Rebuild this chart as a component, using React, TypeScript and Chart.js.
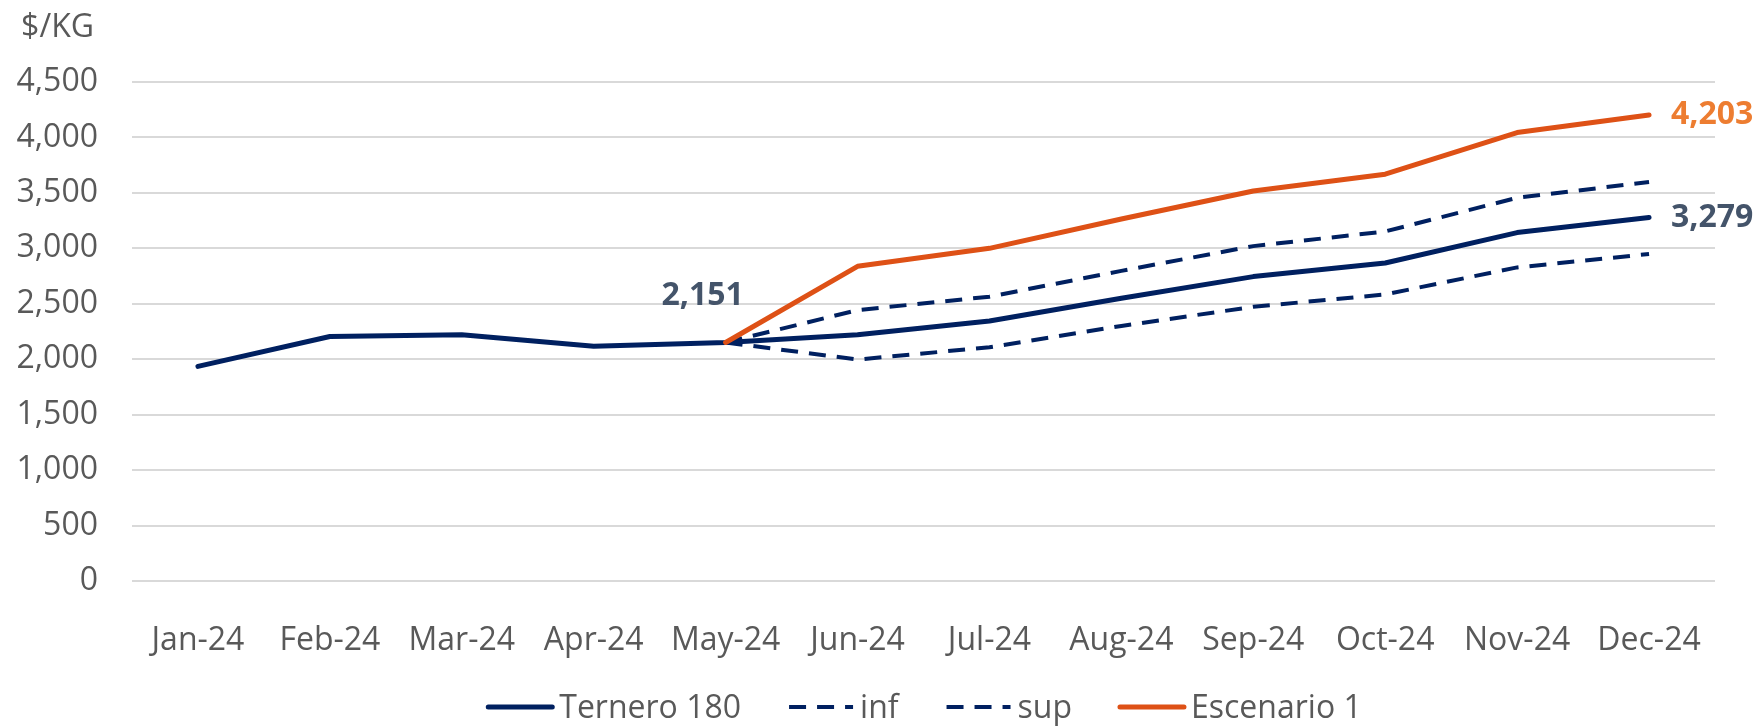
import React, { useEffect, useRef } from "react";
import { Chart, registerables } from "chart.js";

Chart.register(...registerables);

const FONT = "'Open Sans', sans-serif";

const categories = ["Jan-24", "Feb-24", "Mar-24", "Apr-24", "May-24", "Jun-24", "Jul-24", "Aug-24", "Sep-24", "Oct-24", "Nov-24", "Dec-24"];
const ternero = [1935, 2205, 2220, 2118, 2151, 2220, 2345, 2550, 2745, 2868, 3142, 3279];
const inf = [null, null, null, null, 2151, 1997, 2108, 2300, 2473, 2584, 2828, 2949];
const sup = [null, null, null, null, 2151, 2443, 2564, 2797, 3020, 3152, 3456, 3598];
const escenario = [null, null, null, null, 2151, 2838, 3000, 3264, 3517, 3669, 4044, 4203];

const seriesNames = ["Ternero 180", "inf", "sup", "Escenario 1"];
const yMin = 0;
const yMax = 4500;
const yStep = 500;
const axisTitle = "$/KG";

// data labels: dataset index, point index
const dataLabels = [
  { ds: 0, idx: 4, dx: -23, dy: -47, align: "center", color: "#44546A" },
  { ds: 0, idx: 11, dx: 22, dy: 0, align: "left", color: "#44546A" },
  { ds: 3, idx: 11, dx: 22, dy: 0, align: "left", color: "#ED7D31" },
];

const fmt = (v: number) => v.toLocaleString("en-US");

const overlay = {
  id: "overlay",
  afterDatasetsDraw(chart: any) {
    const ctx = chart.ctx;
    const ys = chart.scales.y;
    const area = chart.chartArea;
    ctx.save();
    // axis title
    ctx.font = `32px ${FONT}`;
    ctx.fillStyle = "#595959";
    ctx.textAlign = "right";
    ctx.textBaseline = "middle";
    ctx.fillText(axisTitle, ys.right - 38, area.top - 54);

    // data labels
    ctx.font = `bold 32px ${FONT}`;
    dataLabels.forEach((l) => {
      const meta = chart.getDatasetMeta(l.ds);
      const pt = meta.data[l.idx];
      const v = chart.data.datasets[l.ds].data[l.idx];
      ctx.fillStyle = l.color;
      ctx.textAlign = l.align;
      ctx.textBaseline = "middle";
      ctx.fillText(fmt(v), pt.x + l.dx, pt.y + l.dy);
    });

    // legend
    ctx.font = `32px ${FONT}`;
    const sample = 70;
    const gapText = 4;
    const gapItem = 45;
    const items = chart.data.datasets.map((d: any) => ({ d, w: ctx.measureText(d.label).width }));
    const total = items.reduce((s: number, it: any) => s + sample + gapText + it.w, 0) + gapItem * (items.length - 1);
    let x = (area.left + area.right) / 2 - total / 2;
    const ly = chart.height - 18;
    items.forEach((it: any) => {
      ctx.save();
      ctx.strokeStyle = it.d.borderColor;
      ctx.lineWidth = it.d.borderWidth;
      ctx.lineCap = it.d.borderDash && it.d.borderDash.length ? "butt" : "round";
      ctx.setLineDash(it.d.borderDash || []);
      ctx.beginPath();
      ctx.moveTo(x + 3, ly - 2);
      ctx.lineTo(x + sample - 3, ly - 2);
      ctx.stroke();
      ctx.restore();
      ctx.fillStyle = "#595959";
      ctx.textAlign = "left";
      ctx.textBaseline = "middle";
      ctx.fillText(it.d.label, x + sample + gapText, ly);
      x += sample + gapText + it.w + gapItem;
    });
    ctx.restore();
  },
};

export default function App() {
  const ref = useRef<HTMLCanvasElement>(null);
  useEffect(() => {
    const navy = "#002060";
    const chart = new Chart(ref.current as HTMLCanvasElement, {
      type: "line",
      data: {
        labels: categories,
        datasets: [
          { label: seriesNames[0], data: ternero, borderColor: navy, backgroundColor: navy, borderWidth: 5, pointRadius: 0, tension: 0, borderCapStyle: "round", borderJoinStyle: "round", order: 1 },
          { label: seriesNames[1], data: inf, borderColor: navy, backgroundColor: navy, borderWidth: 4, borderDash: [17, 11], pointRadius: 0, tension: 0, order: 2 },
          { label: seriesNames[2], data: sup, borderColor: navy, backgroundColor: navy, borderWidth: 4, borderDash: [17, 11], pointRadius: 0, tension: 0, order: 2 },
          { label: seriesNames[3], data: escenario, borderColor: "#DE5116", backgroundColor: "#DE5116", borderWidth: 5, pointRadius: 0, tension: 0, borderCapStyle: "round", borderJoinStyle: "round", order: 0 },
        ] as any,
      },
      options: {
        animation: false,
        responsive: true,
        maintainAspectRatio: false,
        layout: { padding: { top: 82, right: 48, bottom: 66, left: 0 } },
        plugins: { legend: { display: false }, tooltip: { enabled: false } },
        scales: {
          x: {
            offset: true,
            grid: { display: false },
            border: { display: false },
            ticks: { font: { family: FONT, size: 32 }, color: "#595959", padding: 33, maxRotation: 0, autoSkip: false },
            afterFit: (s: any) => { s.height = 80; },
          },
          y: {
            min: yMin,
            max: yMax,
            grid: { color: "#D9D9D9", lineWidth: 2, drawTicks: false },
            border: { display: false },
            ticks: { stepSize: yStep, font: { family: FONT, size: 32 }, color: "#595959", padding: 34, callback: (v: any) => fmt(Number(v)) },
            afterFit: (s: any) => { s.width = 132; },
          },
        },
      } as any,
      plugins: [overlay],
    });
    return () => chart.destroy();
  }, []);
  return (
    <div style={{ position: "fixed", left: 0, top: 0, width: 1763, height: 727, background: "#fff" }}>
      <canvas ref={ref} />
    </div>
  );
}
